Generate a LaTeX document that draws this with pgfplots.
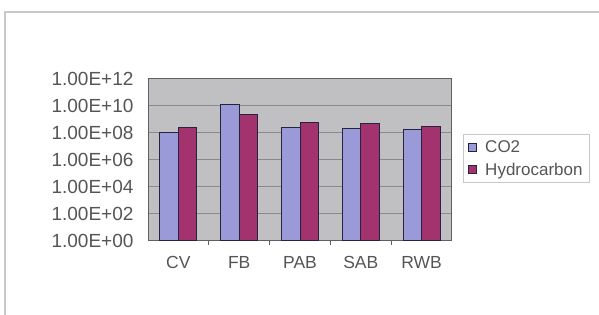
\documentclass[border=0pt]{standalone}
\usepackage{pgfplots}
\pgfplotsset{compat=1.18}
\usepackage{fontspec}
\setmainfont{Liberation Sans}
\definecolor{plotbg}{HTML}{C0C0C2}
\definecolor{gridc}{HTML}{8A8A8C}
\definecolor{coc}{HTML}{9A9AD8}
\definecolor{hcc}{HTML}{A3336F}
\definecolor{edgec}{HTML}{26233E}
\definecolor{txt}{HTML}{555555}
\definecolor{framec}{HTML}{C8C8C8}
\begin{document}
\begin{tikzpicture}
\path[use as bounding box] (0pt,0pt) rectangle (599pt,315pt);
\draw[framec, line width=2.5pt] (5pt,0pt) -- (5pt,303pt) -- (599pt,303pt);
\begin{axis}[at={(148pt,74pt)}, anchor=south west, scale only axis,
  width=304pt, height=162pt,
  ymode=log, ymin=1, ymax=1e12,
  xmin=-0.5, xmax=4.5,
  xtick={0,1,2,3,4}, xticklabels={CV,FB,PAB,SAB,RWB},
  ytick={1,100,1e4,1e6,1e8,1e10,1e12},
  yticklabels={1.00E+00,1.00E+02,1.00E+04,1.00E+06,1.00E+08,1.00E+10,1.00E+12},
  xtick pos=bottom, ytick pos=left,
  axis background/.style={fill=plotbg},
  ymajorgrids, grid style={gridc, line width=1pt},
  axis line style={gridc!70!black, line width=1pt},
  major tick length=0pt,
  minor xtick={0.5,1.5,2.5,3.5}, minor tick length=4pt, tick align=inside,
  minor tick style={gridc!70!black, line width=0.8pt},
  ybar=0pt, bar width=18.5pt,
  xticklabel style={font=\fontsize{17.5}{20}\selectfont, text=txt, yshift=-12pt},
  yticklabel style={font=\fontsize{19}{21}\selectfont, text=txt, xshift=-11pt},
  legend style={at={(1.036,0.660)}, anchor=north west, draw=framec, line width=1pt,
    font=\fontsize{17}{20}\selectfont, text=txt, inner xsep=5pt, inner ysep=4pt,
    row sep=5pt, column sep=6pt},
  legend image code/.code={\draw[#1, line width=0.8pt] (0pt,-4pt) rectangle (8pt,4pt);},
  legend cell align=left,
]
\addplot[fill=coc, draw=edgec, line width=1pt] coordinates {(0,1e8) (1,1.3e10) (2,2.5e8) (3,2.2e8) (4,1.7e8)};
\addplot[fill=hcc, draw=edgec, line width=1pt] coordinates {(0,2.5e8) (1,2.2e9) (2,6.5e8) (3,5.2e8) (4,3.2e8)};
\legend{CO2,Hydrocarbon}
\end{axis}
\end{tikzpicture}
\end{document}
